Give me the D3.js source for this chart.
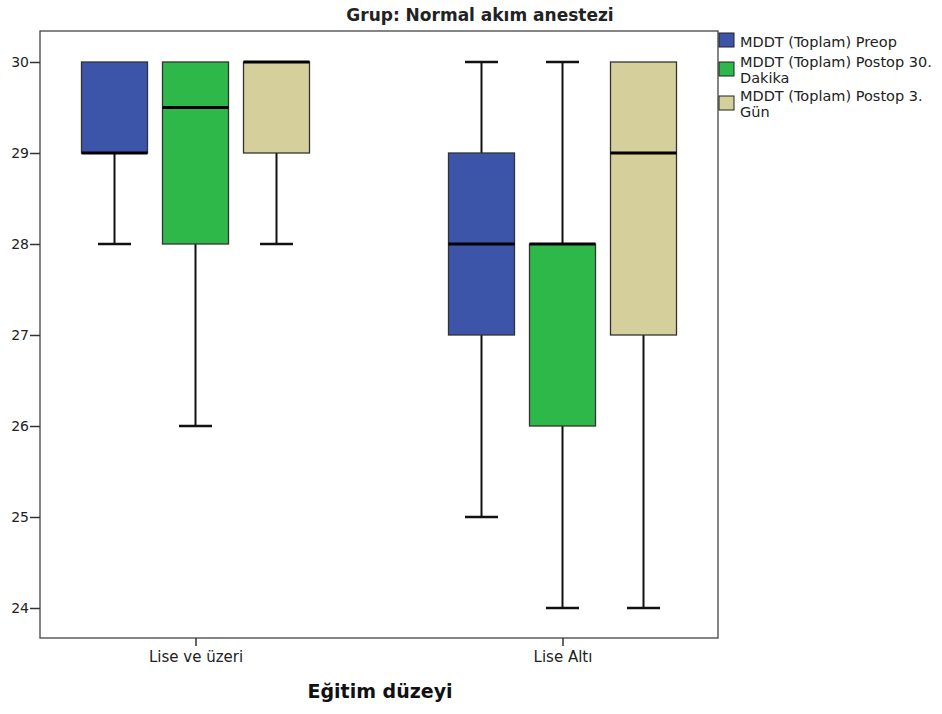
<!DOCTYPE html>
<html>
<head>
<meta charset="utf-8">
<script src="https://cdn.jsdelivr.net/npm/d3@7"></script>
<style>
  body { margin: 0; background: #fff; }
  text { font-family: "DejaVu Sans", Verdana, sans-serif; }
</style>
</head>
<body>
<div id="chart"></div>
<script>
const categories = ['Lise ve üzeri', 'Lise Altı'];
const series = ['MDDT (Toplam) Preop', 'MDDT (Toplam) Postop 30. Dakika', 'MDDT (Toplam) Postop 3. Gün'];
const legendLines = [['MDDT (Toplam) Preop'], ['MDDT (Toplam) Postop 30.', 'Dakika'], ['MDDT (Toplam) Postop 3.', 'Gün']];
const colors = ['#3c55a8', '#2fb84a', '#d4cf9b'];
// [min, q1, median, q3, max] per category, per series
const preop   = [[28, 29, 29, 30, 30], [25, 27, 28, 29, 30]];
const post30  = [[26, 28, 29.5, 30, 30], [24, 26, 28, 28, 30]];
const post3g  = [[28, 29, 30, 30, 30], [24, 27, 29, 30, 30]];
const yTicks = [24, 25, 26, 27, 28, 29, 30];

const W = 942, H = 714;
const plot = { left: 40, right: 718, top: 31, bottom: 638 };

const svg = d3.select('#chart').append('svg').attr('width', W).attr('height', H);

const x = d3.scalePoint().domain(categories).range([plot.left, plot.right]).padding(0.4237);
const xs = d3.scalePoint().domain(series).range([-81, 81]);
const y = d3.scaleLinear().domain([24, 30]).range([608, 62]);
const boxW = 66, capW = 33;

// frame
svg.append('rect')
  .attr('x', plot.left).attr('y', plot.top)
  .attr('width', plot.right - plot.left).attr('height', plot.bottom - plot.top)
  .attr('fill', 'none').attr('stroke', '#444').attr('stroke-width', 1.3);

// axes
const yAxis = svg.append('g').attr('transform', `translate(${plot.left},0)`)
  .call(d3.axisLeft(y).tickValues(yTicks).tickSize(10).tickPadding(1).tickFormat(d3.format('d')));
yAxis.select('.domain').remove();
yAxis.selectAll('line').attr('stroke', '#333').attr('stroke-width', 1.5);
yAxis.selectAll('text').attr('font-size', 14).attr('fill', '#222');

const xAxis = svg.append('g').attr('transform', `translate(0,${plot.bottom})`)
  .call(d3.axisBottom(x).tickSize(8).tickPadding(5));
xAxis.select('.domain').remove();
xAxis.selectAll('line').attr('stroke', '#333').attr('stroke-width', 1.5);
xAxis.selectAll('text').attr('font-size', 15).attr('fill', '#222');

// boxes
const allSeries = [preop, post30, post3g];
const rows = [];
categories.forEach((c, ci) => series.forEach((s, si) => {
  const v = allSeries[si][ci];
  rows.push({ c, s, si, min: v[0], q1: v[1], med: v[2], q3: v[3], max: v[4] });
}));

const box = svg.append('g').selectAll('g').data(rows).join('g')
  .attr('transform', d => `translate(${x(d.c) + xs(d.s)},0)`);

box.filter(d => d.max > d.q3).append('line')
  .attr('y1', d => y(d.max)).attr('y2', d => y(d.q3))
  .attr('stroke', '#111').attr('stroke-width', 2);
box.filter(d => d.max > d.q3).append('line')
  .attr('x1', -capW / 2).attr('x2', capW / 2)
  .attr('y1', d => y(d.max)).attr('y2', d => y(d.max))
  .attr('stroke', '#111').attr('stroke-width', 2.5);
box.filter(d => d.min < d.q1).append('line')
  .attr('y1', d => y(d.q1)).attr('y2', d => y(d.min))
  .attr('stroke', '#111').attr('stroke-width', 2);
box.filter(d => d.min < d.q1).append('line')
  .attr('x1', -capW / 2).attr('x2', capW / 2)
  .attr('y1', d => y(d.min)).attr('y2', d => y(d.min))
  .attr('stroke', '#111').attr('stroke-width', 2.5);

box.append('rect')
  .attr('x', -boxW / 2).attr('width', boxW)
  .attr('y', d => y(d.q3)).attr('height', d => y(d.q1) - y(d.q3))
  .attr('fill', d => colors[d.si]).attr('stroke', '#333').attr('stroke-width', 1.3);

box.append('line')
  .attr('x1', -boxW / 2).attr('x2', boxW / 2)
  .attr('y1', d => y(d.med)).attr('y2', d => y(d.med))
  .attr('stroke', '#000').attr('stroke-width', 3);

// title
svg.append('text').attr('x', 480).attr('y', 21).attr('text-anchor', 'middle')
  .attr('font-size', 17).attr('font-weight', 'bold').attr('fill', '#222')
  .text('Grup: Normal akım anestezi');

// x axis title
svg.append('text').attr('x', 380).attr('y', 698).attr('text-anchor', 'middle')
  .attr('font-size', 19).attr('font-weight', 'bold').attr('fill', '#111')
  .text('Eğitim düzeyi');

// legend
const legY = [33, 62, 96];
const leg = svg.append('g').selectAll('g').data(legendLines).join('g')
  .attr('transform', (d, i) => `translate(719,${legY[i]})`);
leg.append('rect').attr('width', 15).attr('height', 14)
  .attr('fill', (d, i) => colors[i]).attr('stroke', '#222').attr('stroke-width', 1);
leg.selectAll('text').data(d => d).join('text')
  .attr('x', 21).attr('y', (d, i, nodes) => 14 - (nodes.length - 1) * 9.5 + i * 16)
  .attr('font-size', 14.5).attr('fill', '#222')
  .text(d => d);
</script>
</body>
</html>
